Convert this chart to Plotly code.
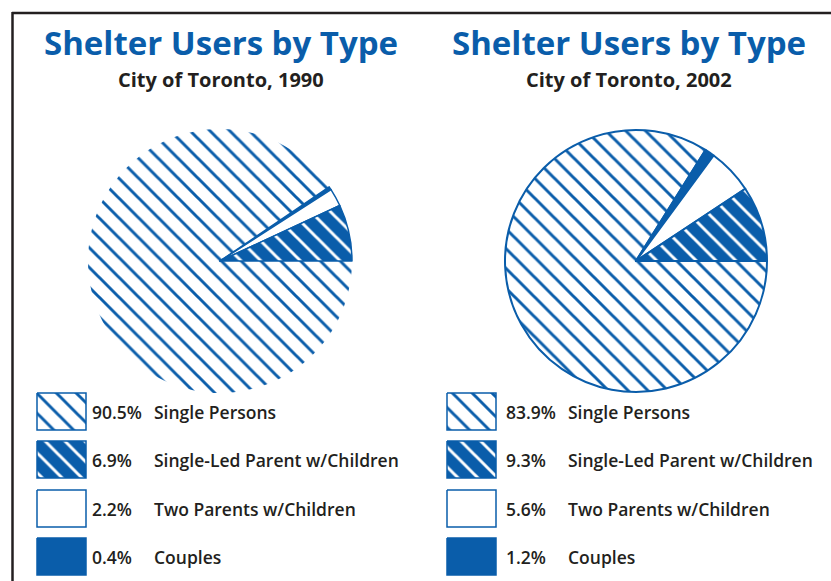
import plotly.graph_objects as go

W, H = 831, 581
BLUE = "#0A5DAA"
INK = "#231F20"
WHITE = "#FFFFFF"

# Shelter user categories, in drawing order (clockwise, ending at 3 o'clock)
categories = ["Single Persons", "Couples", "Two Parents w/Children", "Single-Led Parent w/Children"]
share_1990 = [90.5, 0.4, 2.2, 6.9]
share_2002 = [83.9, 1.2, 5.6, 9.3]

# Legend listing order
legend_order = ["Single Persons", "Single-Led Parent w/Children", "Two Parents w/Children", "Couples"]

years = ["1990", "2002"]
title_text = "Shelter Users by Type"
subtitle_text = "City of Toronto, {}"

# Fill style of each category
styles = {
    "Single Persons": dict(shape="\\", bg=WHITE, fg=BLUE),
    "Single-Led Parent w/Children": dict(shape="\\", bg=BLUE, fg=WHITE),
    "Two Parents w/Children": dict(shape="", bg=WHITE, fg=BLUE),
    "Couples": dict(shape="", bg=BLUE, fg=BLUE),
}

PAT_SIZE = 14
PAT_SOLID = 0.21


def px(x):
    return x / W


def py(y):
    return 1 - y / H


fig = go.Figure()

# Pie layout: centre (pixels) and radius of each panel
panels = [
    dict(year="1990", values=share_1990, cx=220, cy=261, r=132, line_w=[0, 1.5, 1.5, 1.5]),
    dict(year="2002", values=share_2002, cx=636, cy=261, r=131, line_w=[2, 2, 2, 2]),
]

for p in panels:
    fig.add_trace(go.Pie(
        labels=categories,
        values=p["values"],
        sort=False,
        direction="clockwise",
        rotation=90,
        textinfo="none",
        hoverinfo="label+value",
        showlegend=False,
        domain=dict(x=[px(p["cx"] - p["r"]), px(p["cx"] + p["r"])],
                    y=[py(p["cy"] + p["r"]), py(p["cy"] - p["r"])]),
        marker=dict(
            colors=[styles[c]["bg"] for c in categories],
            line=dict(color=BLUE, width=p["line_w"]),
            pattern=dict(
                shape=[styles[c]["shape"] for c in categories],
                bgcolor=[styles[c]["bg"] for c in categories],
                fgcolor=[styles[c]["fg"] for c in categories],
                fgopacity=1,
                size=PAT_SIZE,
                solidity=PAT_SOLID,
                fillmode="replace",
            ),
        ),
    ))

# Legend swatches drawn on a pixel-scaled overlay axis
legend_cols = [
    dict(values=share_1990, box_x=37, pct_x=90, lab_x=152),
    dict(values=share_2002, box_x=447, pct_x=504, lab_x=566),
]
row_top = [393, 441, 490, 538]
BOX_W, BOX_H = 49, 37
LEG_FONT = dict(family="Open Sans", size=17.5, color=INK, weight=600)

annotations = []
for col in legend_cols:
    vals = dict(zip(categories, col["values"]))
    for cat, top in zip(legend_order, row_top):
        st = styles[cat]
        x0, x1 = col["box_x"], col["box_x"] + BOX_W
        y0, y1 = top, top + BOX_H
        fig.add_trace(go.Scatter(
            x=[x0, x1, x1, x0, x0], y=[y0, y0, y1, y1, y0],
            mode="lines", fill="toself",
            fillcolor=st["bg"],
            fillpattern=dict(shape=st["shape"], bgcolor=st["bg"], fgcolor=st["fg"],
                             fgopacity=1, size=PAT_SIZE, solidity=PAT_SOLID,
                             fillmode="replace") if st["shape"] else None,
            line=dict(color=BLUE, width=1.5),
            xaxis="x", yaxis="y", hoverinfo="skip", showlegend=False,
        ))
        ymid = top + BOX_H / 2
        annotations.append(dict(
            x=px(col["pct_x"]), y=py(ymid), xref="paper", yref="paper",
            text=f"{vals[cat]:.1f}%", showarrow=False, xanchor="left", yanchor="middle",
            font=LEG_FONT,
        ))
        annotations.append(dict(
            x=px(col["lab_x"]), y=py(ymid), xref="paper", yref="paper",
            text=cat, showarrow=False, xanchor="left", yanchor="middle",
            font=LEG_FONT,
        ))

# Panel titles
for cx, yr in zip([221, 629], years):
    annotations.append(dict(
        x=px(cx), y=py(43), xref="paper", yref="paper", text=title_text,
        showarrow=False, xanchor="center", yanchor="middle",
        font=dict(family="Open Sans", size=33, color=BLUE, weight=700),
    ))
    annotations.append(dict(
        x=px(cx), y=py(79), xref="paper", yref="paper", text=subtitle_text.format(yr),
        showarrow=False, xanchor="center", yanchor="middle",
        font=dict(family="Open Sans", size=20, color=INK, weight=700),
    ))

# Frame along top and left edges
shapes = [
    dict(type="line", xref="paper", yref="paper", x0=px(12), x1=1, y0=py(13), y1=py(13),
         line=dict(color=INK, width=2.5)),
    dict(type="line", xref="paper", yref="paper", x0=px(12.5), x1=px(12.5), y0=py(12), y1=0,
         line=dict(color=INK, width=2.5)),
]

fig.update_layout(
    width=W, height=H,
    margin=dict(l=0, r=0, t=0, b=0),
    paper_bgcolor=WHITE, plot_bgcolor="rgba(0,0,0,0)",
    xaxis=dict(range=[0, W], domain=[0, 1], visible=False, fixedrange=True),
    yaxis=dict(range=[H, 0], domain=[0, 1], visible=False, fixedrange=True),
    annotations=annotations,
    shapes=shapes,
    showlegend=False,
)

fig.write_html("out.html")
